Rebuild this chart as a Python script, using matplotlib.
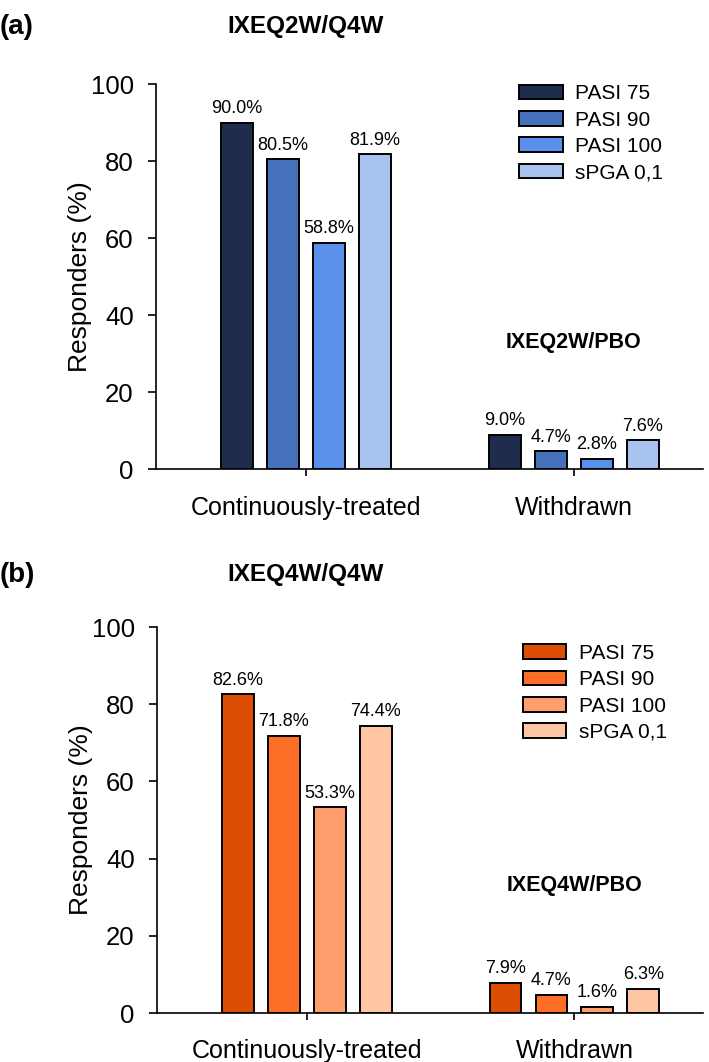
import matplotlib
matplotlib.use('Agg')
import matplotlib.pyplot as plt
import numpy as np

plt.rcParams['font.family'] = ['Liberation Sans', 'DejaVu Sans']

categories = ['Continuously-treated', 'Withdrawn']
series = ['PASI 75', 'PASI 90', 'PASI 100', 'sPGA 0,1']

# panel (a) IXEQ2W
vals_a = [[90.0, 9.0], [80.5, 4.7], [58.8, 2.8], [81.9, 7.6]]
colors_a = ['#1e2d4d', '#4570ba', '#5b8fec', '#a8c3ee']

# panel (b) IXEQ4W
vals_b = [[82.6, 7.9], [71.8, 4.7], [53.3, 1.6], [74.4, 6.3]]
colors_b = ['#dd4e05', '#fd6e26', '#fd9e6c', '#fec5a5']

fig = plt.figure(figsize=(7.09, 10.62), dpi=100)


def draw_panel(rect, vals, colors, tag, title, inner, ty, leg_anchor):
    ax = fig.add_axes(rect)
    x = np.arange(len(categories))
    step = 0.1716
    width = 0.119
    for i, (name, v, c) in enumerate(zip(series, vals, colors)):
        pos = x + (i - 1.5) * step
        ax.bar(pos, v, width, color=c, edgecolor='black', linewidth=1.4, label=name)
        for px, py in zip(pos, v):
            ax.annotate(f'{py:.1f}%', (px, py), xytext=(0, 4), textcoords='offset points',
                        ha='center', va='bottom', fontsize=13)
    ax.set_xlim(-0.56, 1.48)
    ax.set_ylim(0, 100)
    ax.set_yticks([0, 20, 40, 60, 80, 100])
    ax.set_xticks(x)
    ax.set_xticklabels(categories, fontsize=18)
    ax.tick_params(axis='y', labelsize=18.5, length=6, width=1.2, pad=10)
    ax.tick_params(axis='x', length=5, width=1.2, pad=14)
    ax.set_ylabel('Responders (%)', fontsize=19, labelpad=-1)
    for s in ['top', 'right']:
        ax.spines[s].set_visible(False)
    for s in ['left', 'bottom']:
        ax.spines[s].set_linewidth(1.2)
    ax.legend(loc='upper left', bbox_to_anchor=leg_anchor, frameon=False, fontsize=15,
              handlelength=2.1, handleheight=0.7, labelspacing=0.35, handletextpad=0.6,
              borderpad=0, borderaxespad=0)
    ax.text(1.0, 33, inner, ha='center', va='center', fontsize=15.5, fontweight='bold')
    fig.text(0.0, ty, tag, ha='left', va='center', fontsize=20, fontweight='bold')
    fig.text(306 / 709, ty, title, ha='center', va='center', fontsize=17.5, fontweight='bold')
    return ax


draw_panel([0.220, 0.558, 0.771, 0.3625], vals_a, colors_a, '(a)', 'IXEQ2W/Q4W', 'IXEQ2W/PBO',
           0.975, (0.664, 1.0))
draw_panel([0.2214, 0.0461, 0.770, 0.3635], vals_b, colors_b, '(b)', 'IXEQ4W/Q4W', 'IXEQ4W/PBO',
           0.4586, (0.670, 0.956))

fig.savefig('out.png', dpi=100)
